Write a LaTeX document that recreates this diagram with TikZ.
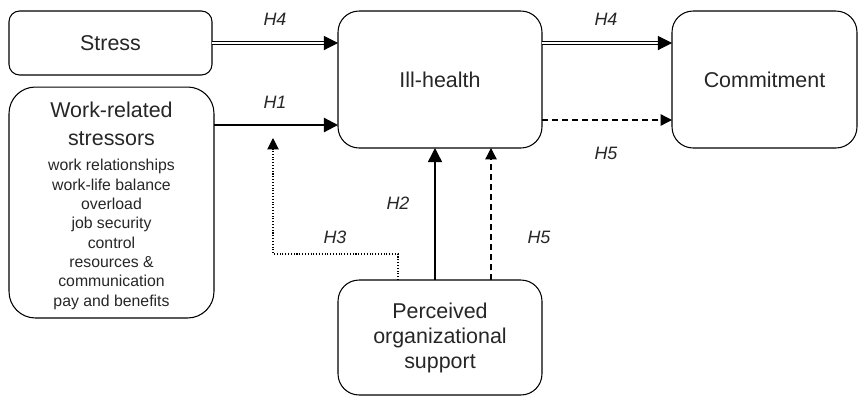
\documentclass[tikz,border=0pt]{standalone}
\usepackage{fontspec}
\setmainfont{Liberation Sans}
\usetikzlibrary{arrows.meta}

\newcommand{\bigtxt}{\fontsize{12.2}{14.2}\selectfont}

\begin{document}
\begin{tikzpicture}[x=0.02cm, y=-0.02cm,
    box/.style={rectangle, rounded corners=12pt, draw, line width=0.6pt,
        inner sep=0pt, outer sep=0pt, align=center, font=\bigtxt, text=black!85},
    hyp/.style={font=\fontsize{10.2}{12}\selectfont\itshape, text=black!85},
    tip/.style={-{Triangle[length=8pt, width=8pt]}},
    smalltip/.style={-{Triangle[length=6.5pt, width=6.5pt]}}]
    \useasboundingbox (0,0) rectangle (866,397);

    \node (S) [box, rounded corners=6pt, minimum width=4.06cm, minimum height=1.28cm] at (110.5,43) {Stress};
    \node (W) [box, rounded corners=15pt, minimum width=4.1cm, minimum height=4.62cm, text width=4cm,
        align=flush center] at (111.5,202.5)
        {\fontsize{12.2}{15.9}\selectfont\rule{0pt}{12.8pt}Work-related\\ stressors\par
         \vspace{3.3pt}
         \fontsize{9}{11}\selectfont work relationships\\ work-life balance\\ overload\\
         job security\\ control\\ resources \&\\ communication\\ pay and benefits\par};
    \node (I) [box, minimum width=4.08cm, minimum height=2.74cm] at (440,79.5) {Ill-health};
    \node (C) [box, minimum width=3.7cm, minimum height=2.74cm] at (764.5,79.5) {Commitment};
    \node (P) [box, minimum width=4.08cm, minimum height=2.3cm] at (440,337.5) {Perceived\\ organizational\\ support};

    \coordinate (h1) at (0,125);
    \coordinate (h5) at (0,120);
    \coordinate (h3) at (273,138);

    % main paths
    \draw [tip, double, double distance=0.7pt, line width=0.55pt] (S.east) -- (S.east -| I.west);
    \draw [tip, double, double distance=0.7pt, line width=0.55pt] (I.east |- S) -- (C.west |- S);
    \draw [tip, line width=1.2pt] (W.east |- h1) -- (I.west |- h1);
    \draw [smalltip, line width=0.7pt, dash pattern=on 3.4pt off 2.3pt] (I.east |- h5) -- (C.west |- h5);

    % support paths
    \draw [tip, line width=0.8pt] (P.north -| 435,0) -- (I.south -| 435,0);
    \draw [smalltip, line width=0.7pt, dash pattern=on 3.4pt off 2.3pt] (P.north -| 491,0) -- (I.south -| 491,0);
    \draw [smalltip, line width=0.6pt, densely dotted] (P.north -| 398,0) -- ++(0,-26) -| (h3);

    \node (l1) [hyp] at (275,19) {H4};
    \node (l2) [hyp] at (606,19) {H4};
    \node (l3) [hyp] at (275,102) {H1};
    \node (l4) [hyp] at (606,153) {H5};
    \node (l5) [hyp] at (398,203) {H2};
    \node (l6) [hyp] at (335,237) {H3};
    \node (l7) [hyp] at (539,237) {H5};
\end{tikzpicture}
\end{document}
